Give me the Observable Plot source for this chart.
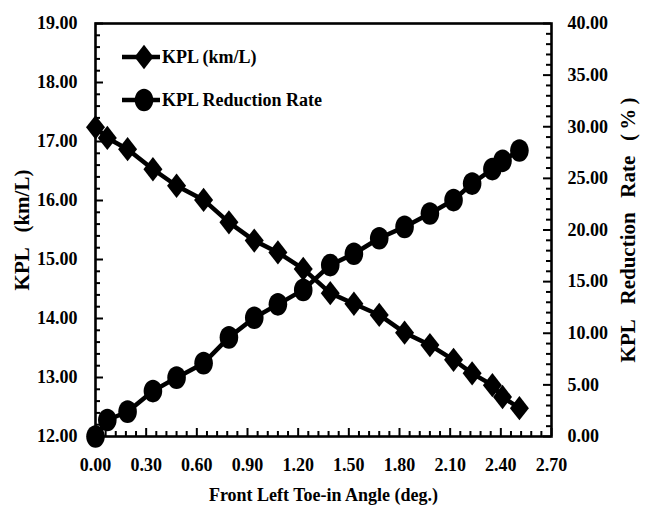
<!DOCTYPE html>
<html><head><meta charset="utf-8">
<script src="https://cdn.jsdelivr.net/npm/d3@7"></script>
<script src="https://cdn.jsdelivr.net/npm/@observablehq/plot@0.6"></script>
<style>
body{margin:0;background:#fff;}
#wrap{position:relative;width:651px;height:522px;}
.lg{position:absolute;display:flex;align-items:center;font:bold 18px "Liberation Serif","Times New Roman",serif;color:#000;white-space:nowrap;}
.lg svg{display:block;}
</style></head><body><div id="wrap"></div>
<script>
// ---- data ----
const angle = [0, 0.07, 0.19, 0.34, 0.48, 0.64, 0.79, 0.94, 1.08, 1.23, 1.39, 1.53, 1.68, 1.83, 1.98, 2.12, 2.23, 2.35, 2.41, 2.51];
const kpl   = [17.24, 17.06, 16.87, 16.53, 16.25, 16.01, 15.63, 15.32, 15.12, 14.84, 14.43, 14.25, 14.06, 13.76, 13.55, 13.30, 13.07, 12.87, 12.67, 12.48];
const rate  = [0, 1.6, 2.4, 4.4, 5.7, 7.1, 9.6, 11.5, 12.8, 14.2, 16.6, 17.7, 19.2, 20.3, 21.6, 22.9, 24.5, 25.9, 26.7, 27.7];
const seriesNames = ["KPL (km/L)", "KPL Reduction Rate"];
const xTicks = [0, 0.3, 0.6, 0.9, 1.2, 1.5, 1.8, 2.1, 2.4, 2.7];
const yLeftTicks = [12, 13, 14, 15, 16, 17, 18, 19];
const yRightTicks = [0, 5, 10, 15, 20, 25, 30, 35, 40];
const xTitle = "Front Left Toe-in Angle (deg.)";
const yLeftTitle = "KPL\u2002\u2009(km/L)";
const yRightTitle = "KPL\u2002\u2009Reduction\u2002\u2009Rate\u2002\u2009(\u2009%\u2009)";

// ---- layout ----
const W = 651, H = 522, mL = 95, mR = 100, mT = 23, mB = 86;
const fw = W - mL - mR, fh = H - mT - mB;
const xDomain = [0, 2.7];

// ---- scales mapping ----
const leftDomain = [12, 19], rightDomain = [0, 40];
const toLeft = r => leftDomain[0] + (r - rightDomain[0]) * (leftDomain[1] - leftDomain[0]) / (rightDomain[1] - rightDomain[0]);
const fromLeft = v => rightDomain[0] + (v - leftDomain[0]) * (rightDomain[1] - rightDomain[0]) / (leftDomain[1] - leftDomain[0]);

const rows = angle.map((a, i) => ({angle: a, kpl: kpl[i], rate: rate[i], rateY: toLeft(rate[i])}));

const xMinor = d3.range(0, 2.7001, 0.06).filter(v => !xTicks.some(t => Math.abs(t - v) < 1e-6));
const yMinor = d3.range(12, 19.0001, 0.2).filter(v => !yLeftTicks.some(t => Math.abs(t - v) < 1e-6));
const rMinor = d3.range(0, 40.0001, 1).filter(v => !yRightTicks.some(t => Math.abs(t - v) < 1e-6)).map(toLeft);
const rMajor = yRightTicks.map(toLeft);

// tick lengths in px converted to data units
const pxX = (xDomain[1] - xDomain[0]) / fw, pxY = (leftDomain[1] - leftDomain[0]) / fh;

const diamondSym = {draw(ctx, size) {
  const r = Math.sqrt(size / Math.PI), w = r, h = r * 1.28;
  ctx.moveTo(0, -h); ctx.lineTo(w, 0); ctx.lineTo(0, h); ctx.lineTo(-w, 0); ctx.closePath();
}};
const ellipseSym = {draw(ctx, size) {
  const r = Math.sqrt(size / Math.PI), rx = r, ry = r * 1.22, k = 0.5523;
  ctx.moveTo(rx, 0);
  ctx.bezierCurveTo(rx, ry * k, rx * k, ry, 0, ry);
  ctx.bezierCurveTo(-rx * k, ry, -rx, ry * k, -rx, 0);
  ctx.bezierCurveTo(-rx, -ry * k, -rx * k, -ry, 0, -ry);
  ctx.bezierCurveTo(rx * k, -ry, rx, -ry * k, rx, 0);
  ctx.closePath();
}};

const tk = {stroke: "#000", strokeWidth: 2};
const chart = Plot.plot({
  width: W, height: H,
  marginLeft: mL, marginRight: mR, marginTop: mT, marginBottom: mB,
  style: {fontFamily: "'Liberation Serif','Times New Roman',serif", fontSize: "18px", fontWeight: "bold", color: "#000", background: "#fff", overflow: "visible"},
  x: {domain: xDomain},
  y: {domain: leftDomain},
  marks: [
    // inward ticks
    Plot.ruleX(xMinor, {x: d => d, y1: leftDomain[0], y2: leftDomain[0] + 5 * pxY, ...tk}),
    Plot.ruleX(xTicks, {x: d => d, y1: leftDomain[0], y2: leftDomain[0] + 8 * pxY, ...tk}),
    Plot.ruleY(yMinor, {y: d => d, x1: xDomain[0], x2: xDomain[0] + 5 * pxX, ...tk}),
    Plot.ruleY(yLeftTicks, {y: d => d, x1: xDomain[0], x2: xDomain[0] + 8 * pxX, ...tk}),
    Plot.ruleY(rMinor, {y: d => d, x1: xDomain[1] - 5 * pxX, x2: xDomain[1], ...tk}),
    Plot.ruleY(rMajor, {y: d => d, x1: xDomain[1] - 8 * pxX, x2: xDomain[1], ...tk}),
    // labels
    Plot.axisX(xTicks, {tickSize: 0, tickPadding: 22, tickFormat: d => d.toFixed(2),
      label: xTitle, labelAnchor: "center", labelOffset: 64, labelArrow: false}),
    Plot.axisY(yLeftTicks, {tickSize: 0, tickPadding: 18, tickFormat: d => d.toFixed(2),
      label: yLeftTitle, labelAnchor: "center", labelOffset: 81, labelArrow: false}),
    Plot.axisY(rMajor, {anchor: "right", tickSize: 0, tickPadding: 16,
      tickFormat: d => fromLeft(d).toFixed(2),
      label: yRightTitle, labelAnchor: "center", labelOffset: 83, labelArrow: false}),
    Plot.frame({stroke: "#000", strokeWidth: 2.6}),
    // series
    Plot.line(rows, {x: "angle", y: "kpl", stroke: "#000", strokeWidth: 4.5}),
    Plot.dot(rows, {x: "angle", y: "kpl", symbol: diamondSym, r: 9.5, fill: "#000", stroke: "none"}),
    Plot.line(rows, {x: "angle", y: "rateY", stroke: "#000", strokeWidth: 4.5}),
    Plot.dot(rows, {x: "angle", y: "rateY", symbol: ellipseSym, r: 9.3, fill: "#000", stroke: "none"})
  ]
});
// enlarge the two vertical axis titles
chart.querySelectorAll("text").forEach(t => {
  if (t.textContent === yRightTitle || t.textContent === yLeftTitle) t.style.fontSize = "21px";
});
const wrap = document.getElementById("wrap");
wrap.appendChild(chart);

// legend
function legendRow(name, sym, r, top) {
  const div = document.createElement("div");
  div.className = "lg";
  div.style.left = "120px"; div.style.top = (top - 13) + "px";
  const s = d3.create("svg").attr("width", 42).attr("height", 26);
  s.append("line").attr("x1", 2).attr("x2", 40).attr("y1", 13).attr("y2", 13).attr("stroke", "#000").attr("stroke-width", 4.5);
  const p = d3.path(); sym.draw(p, Math.PI * r * r);
  s.append("path").attr("d", p.toString()).attr("transform", "translate(24,13)").attr("fill", "#000");
  div.appendChild(s.node());
  const t = document.createElement("span"); t.textContent = name; div.appendChild(t);
  wrap.appendChild(div);
}
legendRow(seriesNames[0], diamondSym, 9.5, 57);
legendRow(seriesNames[1], ellipseSym, 9.3, 100);
</script></body></html>
